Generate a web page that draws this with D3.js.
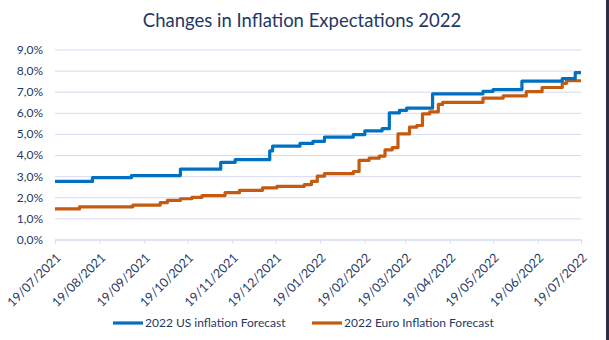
<!DOCTYPE html>
<html>
<head>
<meta charset="utf-8">
<script src="https://cdn.jsdelivr.net/npm/d3@7"></script>
<style>
  body { margin: 0; background: #fff; }
  svg { display: block; font-family: Lato, "Open Sans", sans-serif; }
</style>
</head>
<body>
<div id="chart"></div>
<script>
// forecast series: each entry is the date a new value took effect
var usDates = ["2021-07-19","2021-08-14","2021-09-10","2021-10-14","2021-11-11","2021-11-21","2021-12-15","2021-12-17",
  "2022-01-05","2022-01-14","2022-01-22","2022-02-11","2022-02-19","2022-03-03","2022-03-08","2022-03-15","2022-03-20",
  "2022-04-07","2022-05-12","2022-05-19","2022-06-08","2022-07-06","2022-07-15","2022-07-19"];
var usValues = [2.75,2.93,3.03,3.33,3.65,3.78,4.2,4.42,
  4.55,4.65,4.85,4.97,5.15,5.25,6.0,6.12,6.22,
  6.9,7.02,7.1,7.5,7.62,7.9,7.9];

var euroDates = ["2021-07-19","2021-08-05","2021-09-11","2021-09-30","2021-10-05","2021-10-14","2021-10-22","2021-10-29",
  "2021-11-14","2021-11-24","2021-12-10","2021-12-20","2022-01-08","2022-01-13","2022-01-17","2022-01-22","2022-02-11",
  "2022-02-15","2022-02-22","2022-03-01","2022-03-05","2022-03-10","2022-03-14","2022-03-22","2022-03-27","2022-03-31",
  "2022-04-05","2022-04-11","2022-04-14","2022-05-12","2022-05-26","2022-06-11","2022-06-22","2022-07-06","2022-07-09","2022-07-19"];
var euroValues = [1.45,1.55,1.63,1.75,1.85,1.93,2.0,2.08,
  2.22,2.33,2.45,2.52,2.6,2.75,3.0,3.12,3.22,
  3.75,3.85,3.95,4.25,4.35,5.0,5.32,5.4,5.95,
  6.05,6.4,6.5,6.7,6.8,7.0,7.2,7.4,7.52,7.52];

var tickDates = ["2021-07-19","2021-08-19","2021-09-19","2021-10-19","2021-11-19","2021-12-19","2022-01-19",
  "2022-02-19","2022-03-19","2022-04-19","2022-05-19","2022-06-19","2022-07-19"];
var yTicks = [0,1,2,3,4,5,6,7,8,9];

var seriesNames = ["2022 US inflation Forecast", "2022 Euro Inflation Forecast"];
var seriesColors = ["#0070c0", "#c55a11"];

var W = 609, H = 340;
var margin = {top: 49.5, left: 55, right: 28, bottom: 100.5};
var parse = d3.timeParse("%Y-%m-%d");
var fmt = d3.timeFormat("%d/%m/%Y");
var textColor = "#1f3864";
var gridColor = "#d6d9f1";

var svg = d3.select("#chart").append("svg")
  .attr("width", W)
  .attr("height", H);

var x = d3.scaleTime()
  .domain([parse(tickDates[0]), parse(tickDates[tickDates.length - 1])])
  .range([margin.left, W - margin.right]);

var y = d3.scaleLinear()
  .domain([0, 9])
  .range([H - margin.bottom, margin.top]);

// title
svg.append("text")
  .attr("x", 302)
  .attr("y", 27)
  .attr("text-anchor", "middle")
  .style("font-size", "18.5px")
  .style("fill", textColor)
  .text("Changes in Inflation Expectations 2022");

// gridlines + y labels
var yAxis = svg.append("g")
  .attr("transform", "translate(" + margin.left + ",0)")
  .call(d3.axisLeft(y)
    .tickValues(yTicks)
    .tickSize(-(W - margin.right - margin.left))
    .tickFormat(function(d) { return d3.format(".1f")(d).replace(".", ",") + "%"; }));
yAxis.select(".domain").remove();
yAxis.selectAll("line").attr("stroke", gridColor).attr("stroke-width", 1);
yAxis.selectAll("text")
  .attr("x", -12)
  .style("font-size", "12px")
  .style("font-family", "Lato, sans-serif")
  .style("fill", textColor);

// x axis
var xAxis = svg.append("g")
  .attr("transform", "translate(0," + y(0) + ")")
  .call(d3.axisBottom(x)
    .tickValues(tickDates.map(parse))
    .tickSize(4)
    .tickFormat(fmt));
xAxis.select(".domain").attr("stroke", gridColor);
xAxis.selectAll("line").attr("stroke", gridColor);
xAxis.selectAll("text")
  .attr("text-anchor", "end")
  .attr("transform", "translate(3,16) rotate(-45)")
  .attr("dy", "0.35em")
  .attr("y", 0)
  .attr("x", 0)
  .style("font-size", "12.5px")
  .style("font-family", "Lato, sans-serif")
  .style("fill", textColor);

// lines
var line = d3.line()
  .x(function(d) { return x(d.date); })
  .y(function(d) { return y(d.value); })
  .curve(d3.curveStepAfter);

var series = [
  usDates.map(function(d, i) { return {date: parse(d), value: usValues[i]}; }),
  euroDates.map(function(d, i) { return {date: parse(d), value: euroValues[i]}; })
];

// euro drawn first so the US line sits on top
[1, 0].forEach(function(i) {
  svg.append("path")
    .datum(series[i])
    .attr("d", line)
    .attr("fill", "none")
    .attr("stroke", seriesColors[i])
    .attr("stroke-width", 3.2)
    .attr("stroke-linejoin", "round");
});

// legend
var legendX = [113, 312];
seriesNames.forEach(function(name, i) {
  var g = svg.append("g").attr("transform", "translate(" + legendX[i] + ",323)");
  g.append("line")
    .attr("x1", 0).attr("x2", 30)
    .attr("stroke", seriesColors[i])
    .attr("stroke-width", 3.2);
  g.append("text")
    .attr("x", 32)
    .attr("dy", "0.35em")
    .style("font-size", "12px")
    .style("fill", textColor)
    .text(name);
});

// dark frame edge on the right
svg.append("rect")
  .attr("x", 606)
  .attr("y", 0)
  .attr("width", 3)
  .attr("height", H)
  .attr("fill", "#2a2d44");
</script>
</body>
</html>
